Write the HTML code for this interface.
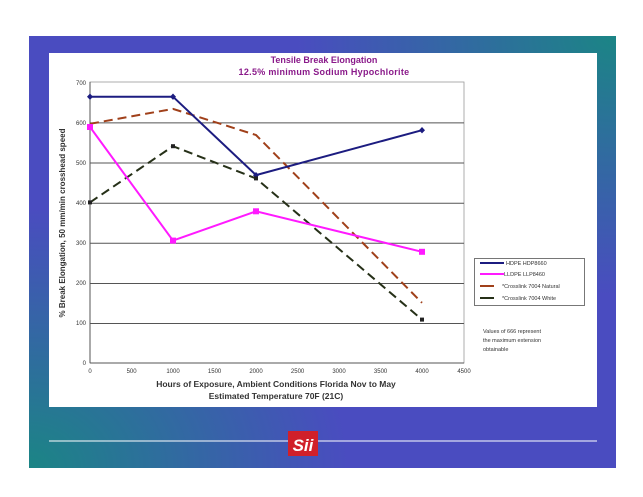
<!DOCTYPE html>
<html><head><meta charset="utf-8"><style>
body{margin:0;width:643px;height:497px;background:#fff;position:relative;overflow:hidden;font-family:"Liberation Sans",sans-serif}
#bg{position:absolute;left:29px;top:36px;width:587px;height:432px;
background:radial-gradient(ellipse 320px 260px at 100% 0%,#1b8585 0%,rgba(27,133,133,0) 100%),radial-gradient(ellipse 320px 260px at 0% 100%,#1b8585 0%,rgba(27,133,133,0) 100%),#4a4cc0}
#panel{position:absolute;left:49px;top:53px;width:548px;height:354px;background:#fff}
</style></head><body>
<div id="bg"></div><div id="panel"></div>
<svg width="643" height="497" style="position:absolute;left:0;top:0" font-family="Liberation Sans, sans-serif">
<text x="324" y="63" font-size="9" font-weight="bold" fill="#8a1a8a" text-anchor="middle">Tensile Break Elongation</text>
<text x="324" y="75" font-size="9" font-weight="bold" fill="#8a1a8a" text-anchor="middle" letter-spacing="0.3">12.5% minimum Sodium Hypochlorite</text>
<rect x="90" y="82" width="374" height="281" fill="#fff" stroke="#999" stroke-width="0.8"/>
<g stroke="#555" stroke-width="1">
<line x1="90" y1="122.9" x2="464" y2="122.9"/><line x1="90" y1="163" x2="464" y2="163"/><line x1="90" y1="203.2" x2="464" y2="203.2"/><line x1="90" y1="243.3" x2="464" y2="243.3"/><line x1="90" y1="283.5" x2="464" y2="283.5"/><line x1="90" y1="323.5" x2="464" y2="323.5"/>
<line x1="90" y1="82" x2="90" y2="363"/><line x1="90" y1="363" x2="464" y2="363"/>
</g>
<g font-size="6" fill="#333" text-anchor="end">
<text x="86" y="365">0</text><text x="86" y="325">100</text><text x="86" y="285">200</text><text x="86" y="245">300</text><text x="86" y="205">400</text><text x="86" y="165">500</text><text x="86" y="125">600</text><text x="86" y="85">700</text></g>
<g font-size="6" fill="#333" text-anchor="middle">
<text x="90" y="373">0</text><text x="131.6" y="373">500</text><text x="173" y="373">1000</text><text x="214.6" y="373">1500</text><text x="256" y="373">2000</text><text x="297.6" y="373">2500</text><text x="339" y="373">3000</text><text x="380.6" y="373">3500</text><text x="422" y="373">4000</text><text x="464" y="373">4500</text></g>
<text x="276" y="387" font-size="8.5" font-weight="bold" fill="#333" text-anchor="middle">Hours of Exposure, Ambient Conditions Florida Nov to May</text>
<text x="276" y="399" font-size="8.5" font-weight="bold" fill="#333" text-anchor="middle">Estimated Temperature 70F (21C)</text>
<text transform="translate(65,223) rotate(-90)" font-size="8" font-weight="bold" fill="#333" text-anchor="middle">% Break Elongation, 50 mm/min crosshead speed</text>
<polyline points="90,123.8 173,108.9 256,135 422,302.8" fill="none" stroke="#a0401a" stroke-width="2" stroke-dasharray="9,5"/>
<polyline points="90,202.4 173,146.2 256,178.4 422,319.6" fill="none" stroke="#263018" stroke-width="2" stroke-dasharray="9,5"/>
<polyline points="90,96.7 173,96.7 256,175.1 422,130.2" fill="none" stroke="#1c1c80" stroke-width="2"/>
<polyline points="90,127 173,240.6 256,211.3 422,251.8" fill="none" stroke="#ff1aff" stroke-width="2"/>
<g fill="#1c1c80"><path d="M90,93.5l3,3.2-3,3.2-3-3.2z"/><path d="M173,93.5l3,3.2-3,3.2-3-3.2z"/><path d="M256,172l3,3.2-3,3.2-3-3.2z"/><path d="M422,127l3,3.2-3,3.2-3-3.2z"/></g>
<g fill="#ff1aff"><rect x="87" y="124" width="6" height="6"/><rect x="170" y="237.6" width="6" height="6"/><rect x="253" y="208.3" width="6" height="6"/><rect x="419" y="248.8" width="6" height="6"/></g>
<g fill="#222"><rect x="88" y="200.4" width="4" height="4"/><rect x="171" y="144.2" width="4" height="4"/><rect x="254" y="176.4" width="4" height="4"/><rect x="420" y="317.6" width="4" height="4"/></g>
<rect x="474.5" y="258.5" width="110" height="47" fill="#fff" stroke="#555" stroke-width="0.8"/>
<line x1="480" y1="263" x2="504" y2="263" stroke="#1c1c80" stroke-width="2"/>
<line x1="480" y1="274" x2="504" y2="274" stroke="#ff1aff" stroke-width="2"/>
<line x1="480" y1="286" x2="494" y2="286" stroke="#a0401a" stroke-width="2"/>
<line x1="480" y1="298" x2="494" y2="298" stroke="#263018" stroke-width="2"/>
<g font-size="5.5" fill="#333"><text x="506" y="265">HDPE HDP8660</text><text x="504" y="276">LLDPE LLP8460</text><text x="502" y="288">*Crosslink 7004 Natural</text><text x="502" y="300">*Crosslink 7004 White</text></g>
<g font-size="5.5" fill="#333"><text x="483" y="333">Values of 666 represent</text><text x="483" y="342">the maximum extension</text><text x="483" y="351">obtainable</text></g>
<line x1="49" y1="441" x2="597" y2="441" stroke="#fff" stroke-width="1"/>
<rect x="288" y="431" width="30" height="25" fill="#d0202a"/>
<text x="303" y="451" font-size="17" font-weight="bold" font-style="italic" fill="#fff" text-anchor="middle">Sii</text>
</svg>
</body></html>
